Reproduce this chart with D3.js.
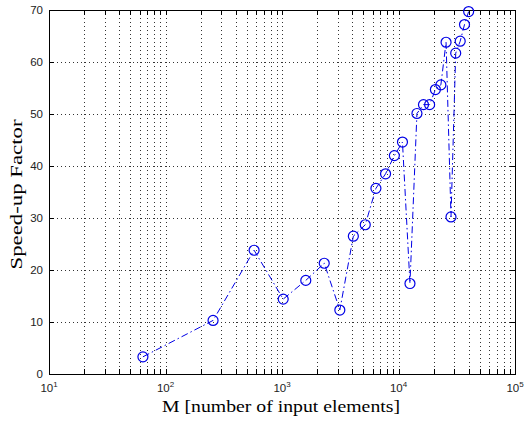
<!DOCTYPE html>
<html>
<head>
<meta charset="utf-8">
<script src="https://cdn.jsdelivr.net/npm/d3@7"></script>
<style>
  body { margin: 0; background: #fff; }
  svg { display: block; }
</style>
</head>
<body>
<div id="chart"></div>
<script>
// problem size M (number of input elements) and measured speed-up
const inputSizes = [64, 256, 576, 1024, 1600, 2304, 3136, 4096, 5184, 6400, 7744, 9216, 10816,
    12544, 14400, 16384, 18496, 20736, 23104, 25600, 28224, 30976, 33856, 36864, 40000]
const speedUp = [3.3, 10.3, 23.8, 14.4, 18.0, 21.3, 12.3, 26.5, 28.7, 35.7, 38.5, 42.0, 44.6,
    17.4, 50.1, 51.8, 51.8, 54.7, 55.6, 63.8, 30.2, 61.7, 64.0, 67.2, 69.7]
const xTickExponents = [1, 2, 3, 4, 5]
const yTicks = [0, 10, 20, 30, 40, 50, 60, 70]

const width = 524
const height = 423
const margins = { top: 10, right: 9, bottom: 49, left: 49 }
const blue = "#0000e6"

const svg = d3.select("#chart")
    .append("svg")
    .attr("width", width)
    .attr("height", height)

const x = d3.scaleLog()
    .domain([10, 1e5])
    .range([margins.left, width - margins.right])
const y = d3.scaleLinear()
    .domain([0, 70])
    .range([height - margins.bottom, margins.top])

const plotLeft = margins.left, plotRight = width - margins.right
const plotTop = margins.top, plotBottom = height - margins.bottom

// every decade gets lines at 1..9 x 10^k
const xGridValues = []
for (let e = 1; e < 5; e++) {
    for (let m = 1; m < 10; m++) xGridValues.push(m * Math.pow(10, e))
}
xGridValues.push(1e5)

const grid = svg.append("g")
    .attr("stroke", "#333")
    .attr("stroke-width", 1)
    .attr("stroke-dasharray", "1,3")
grid.selectAll(".vgrid")
    .data(xGridValues.filter(d => d > 10 && d < 1e5))
    .enter()
    .append("line")
    .attr("class", "vgrid")
    .attr("x1", d => Math.round(x(d)) + 0.5)
    .attr("x2", d => Math.round(x(d)) + 0.5)
    .attr("y1", plotTop)
    .attr("y2", plotBottom)
grid.selectAll(".hgrid")
    .data(yTicks.filter(d => d > 0 && d < 70))
    .enter()
    .append("line")
    .attr("class", "hgrid")
    .attr("x1", plotLeft)
    .attr("x2", plotRight)
    .attr("y1", d => Math.round(y(d)) + 0.5)
    .attr("y2", d => Math.round(y(d)) + 0.5)

// inward ticks on all four sides
const tickLen = 5
const ticks = svg.append("g").attr("stroke", "#000").attr("stroke-width", 1)
xGridValues.forEach(d => {
    const px = Math.round(x(d)) + 0.5
    ticks.append("line").attr("x1", px).attr("x2", px).attr("y1", plotBottom).attr("y2", plotBottom - tickLen)
    ticks.append("line").attr("x1", px).attr("x2", px).attr("y1", plotTop).attr("y2", plotTop + tickLen)
})
yTicks.forEach(d => {
    const py = Math.round(y(d)) + 0.5
    ticks.append("line").attr("x1", plotLeft).attr("x2", plotLeft + tickLen).attr("y1", py).attr("y2", py)
    ticks.append("line").attr("x1", plotRight).attr("x2", plotRight - tickLen).attr("y1", py).attr("y2", py)
})

svg.append("rect")
    .attr("x", plotLeft + 0.5)
    .attr("y", plotTop + 0.5)
    .attr("width", plotRight - plotLeft)
    .attr("height", plotBottom - plotTop)
    .attr("fill", "none")
    .attr("stroke", "#000")
    .attr("stroke-width", 1)

// tick labels
svg.selectAll(".ylabel")
    .data(yTicks)
    .enter()
    .append("text")
    .attr("class", "ylabel")
    .attr("x", plotLeft - 6)
    .attr("y", d => y(d) + 4)
    .attr("text-anchor", "end")
    .style("font-family", "'Liberation Sans', Arial, sans-serif")
    .style("font-size", "11.5px")
    .style("fill", "#222")
    .text(d => d)

const xLabels = svg.selectAll(".xlabel")
    .data(xTickExponents)
    .enter()
    .append("text")
    .attr("class", "xlabel")
    .attr("x", d => x(Math.pow(10, d)))
    .attr("y", plotBottom + 18)
    .attr("text-anchor", "middle")
    .style("font-family", "'Liberation Sans', Arial, sans-serif")
    .style("font-size", "11.5px")
    .style("fill", "#222")
xLabels.append("tspan").text("10")
xLabels.append("tspan")
    .attr("dy", -5)
    .style("font-size", "8px")
    .text(d => d)

// axis titles (the original font is wider than Times, so stretch to its length)
svg.append("text")
    .attr("x", 281)
    .attr("y", 412)
    .attr("text-anchor", "middle")
    .attr("textLength", 238)
    .attr("lengthAdjust", "spacingAndGlyphs")
    .style("font-family", "'Liberation Serif', 'Times New Roman', serif")
    .style("font-size", "16.5px")
    .text("M [number of input elements]")
svg.append("text")
    .attr("transform", "translate(22," + 194.5 + ") rotate(-90)")
    .attr("text-anchor", "middle")
    .attr("textLength", 150)
    .attr("lengthAdjust", "spacingAndGlyphs")
    .style("font-family", "'Liberation Serif', 'Times New Roman', serif")
    .style("font-size", "17px")
    .text("Speed-up Factor")

// data
const points = inputSizes.map((m, i) => ({ m: m, s: speedUp[i] }))
const line = d3.line()
    .x(d => x(d.m))
    .y(d => y(d.s))
svg.append("path")
    .datum(points)
    .attr("d", line)
    .attr("fill", "none")
    .attr("stroke", blue)
    .attr("stroke-width", 1)
    .attr("stroke-dasharray", "7,3,1.5,3")
svg.selectAll(".marker")
    .data(points)
    .enter()
    .append("circle")
    .attr("class", "marker")
    .attr("cx", d => x(d.m))
    .attr("cy", d => y(d.s))
    .attr("r", 5)
    .attr("fill", "none")
    .attr("stroke", blue)
    .attr("stroke-width", 1.2)
</script>
</body>
</html>
